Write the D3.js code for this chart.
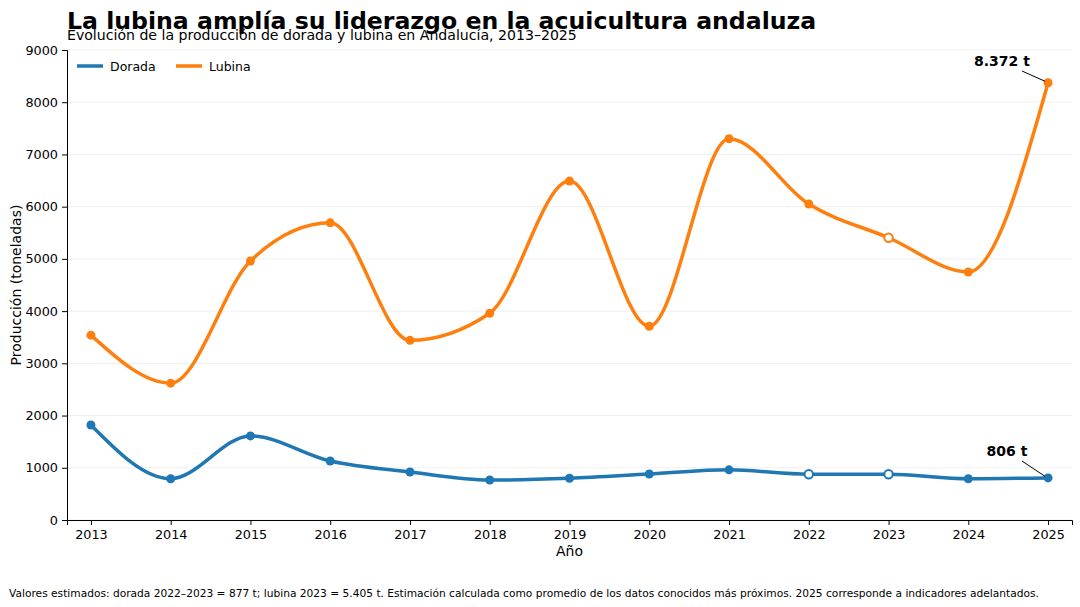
<!DOCTYPE html>
<meta charset="utf-8">
<script src="https://d3js.org/d3.v7.js"></script>
<style>
  body { margin: 0; background: #fff; }
  text { font-family: "DejaVu Sans", sans-serif; }
</style>
<div id="chart"></div>
<script>
// data
var years = [2013, 2014, 2015, 2016, 2017, 2018, 2019, 2020, 2021, 2022, 2023, 2024, 2025];
var dorada = [1820, 790, 1610, 1130, 920, 765, 800, 880, 960, 877, 877, 790, 806];
var lubina = [3540, 2620, 4960, 5690, 3440, 3960, 6490, 3710, 7300, 6050, 5405, 4750, 8372];
// estimated points (drawn hollow)
var doradaEst = [2022, 2023];
var lubinaEst = [2023];
var yTicks = [0, 1000, 2000, 3000, 4000, 5000, 6000, 7000, 8000, 9000];

var W = 1080, H = 607;
var margin = {top: 50, right: 8, bottom: 87, left: 67};
var width = W - margin.left - margin.right,
    height = H - margin.top - margin.bottom;

var svg = d3.select("#chart").append("svg")
  .attr("width", W).attr("height", H);

var g = svg.append("g")
  .attr("transform", "translate(" + margin.left + "," + margin.top + ")");

var x = d3.scaleLinear().domain([2012.7, 2025.3]).range([0, width]);
var y = d3.scaleLinear().domain([0, 9000]).range([height, 0]);

// grid
g.selectAll(".grid").data(yTicks).join("line")
  .attr("x1", 0).attr("x2", width)
  .attr("y1", d => y(d)).attr("y2", d => y(d))
  .attr("stroke", "#ebebeb").attr("stroke-width", 0.8);

// axes
var xAxis = g.append("g")
  .attr("transform", "translate(0," + height + ")")
  .call(d3.axisBottom(x).tickValues(years).tickFormat(d3.format("d")).tickSizeOuter(0).tickSize(5).tickPadding(5));
var yAxis = g.append("g")
  .call(d3.axisLeft(y).tickValues(yTicks).tickFormat(d3.format("d")).tickSizeOuter(0).tickSize(5).tickPadding(4));
[xAxis, yAxis].forEach(function(a) {
  a.selectAll("text").attr("font-size", 12.8).attr("fill", "#000").style("font-family", "DejaVu Sans");
  a.select(".domain").attr("stroke", "#000").attr("stroke-width", 1);
  a.selectAll(".tick line").attr("stroke", "#000");
});

// series
var series = [
  {name: "Dorada", values: dorada, est: doradaEst, color: "#1f77b4"},
  {name: "Lubina", values: lubina, est: lubinaEst, color: "#ff7f0e"}
];

var line = d3.line()
  .x((d, i) => x(years[i]))
  .y(d => y(d))
  .curve(d3.curveMonotoneX);

series.forEach(function(s) {
  g.append("path")
    .datum(s.values)
    .attr("d", line)
    .attr("fill", "none")
    .attr("stroke", s.color)
    .attr("stroke-width", 3.5);

  g.selectAll(".pt-" + s.name).data(s.values).join("circle")
    .attr("cx", (d, i) => x(years[i]))
    .attr("cy", d => y(d))
    .attr("r", (d, i) => s.est.includes(years[i]) ? 4.2 : 4.5)
    .attr("fill", (d, i) => s.est.includes(years[i]) ? "#fff" : s.color)
    .attr("stroke", s.color)
    .attr("stroke-width", (d, i) => s.est.includes(years[i]) ? 2 : 0);
});

// annotations for last values
function annotate(val, tx, ty, dx, label) {
  var px = x(2025), py = y(val);
  g.append("line")
    .attr("x1", tx + dx).attr("y1", ty + 5)
    .attr("x2", px - 3).attr("y2", py - 1.5)
    .attr("stroke", "#000").attr("stroke-width", 1);
  g.append("text")
    .attr("x", tx).attr("y", ty)
    .attr("text-anchor", "middle")
    .attr("font-size", 14).attr("font-weight", "bold")
    .text(label);
}
annotate(8372, 935, 16, 20, d3.format(",")(8372).replace(",", ".") + " t");
annotate(806, 940, 406, 15, "806 t");

// legend
var leg = g.append("g").attr("transform", "translate(10,16)");
series.forEach(function(s, i) {
  var lx = i * 99;
  leg.append("line").attr("x1", lx).attr("x2", lx + 26).attr("y1", 0).attr("y2", 0)
    .attr("stroke", s.color).attr("stroke-width", 3.5);
  leg.append("text").attr("x", lx + 33).attr("y", 4.5)
    .attr("font-size", 12.5).text(s.name);
});

// labels
svg.append("text").attr("x", 67).attr("y", 29)
  .attr("font-size", 23.6).attr("font-weight", "bold")
  .text("La lubina amplía su liderazgo en la acuicultura andaluza");
svg.append("text").attr("x", 67).attr("y", 40)
  .attr("font-size", 14.1)
  .text("Evolución de la producción de dorada y lubina en Andalucía, 2013–2025");
svg.append("text").attr("x", margin.left + width / 2).attr("y", 556)
  .attr("text-anchor", "middle").attr("font-size", 14).text("Año");
svg.append("text")
  .attr("transform", "translate(21," + (margin.top + height / 2) + ") rotate(-90)")
  .attr("text-anchor", "middle").attr("font-size", 14).text("Producción (toneladas)");
svg.append("text").attr("x", 9).attr("y", 597)
  .attr("font-size", 10.65)
  .text("Valores estimados: dorada 2022–2023 = 877 t; lubina 2023 = 5.405 t. Estimación calculada como promedio de los datos conocidos más próximos. 2025 corresponde a indicadores adelantados.");
</script>
